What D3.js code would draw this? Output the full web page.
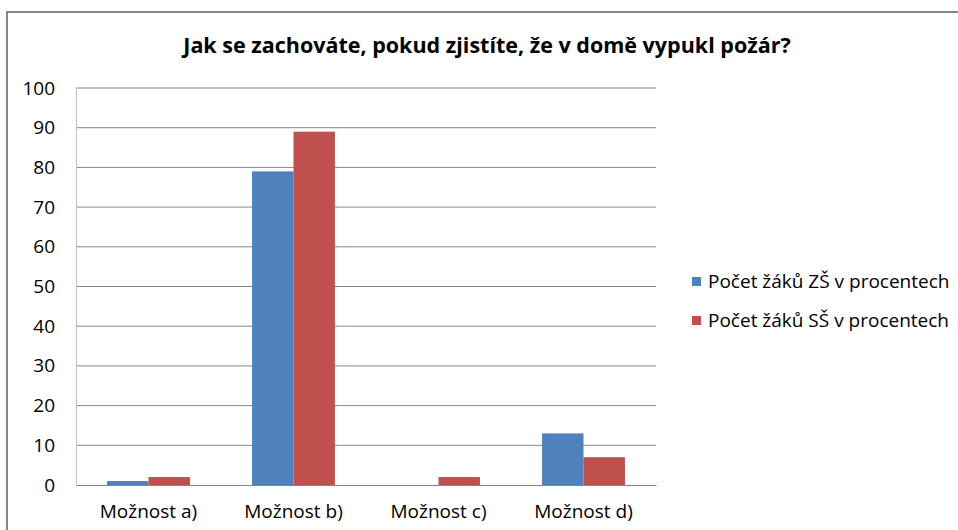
<!DOCTYPE html>
<html>
<head>
<meta charset="utf-8">
<script src="https://cdn.jsdelivr.net/npm/d3@7"></script>
<style>
body { margin: 0; background: #fff; }
text { font-family: "Open Sans", "Liberation Sans", sans-serif; fill: #000; }
</style>
</head>
<body>
<svg id="chart" width="958" height="530"></svg>
<script>
var categories = ["Možnost a)", "Možnost b)", "Možnost c)", "Možnost d)"];
var seriesNames = ["Počet žáků ZŠ v procentech", "Počet žáků SŠ v procentech"];
var zsValues = [1, 79, 0, 13];
var ssValues = [2, 89, 2, 7];
var yTicks = [0, 10, 20, 30, 40, 50, 60, 70, 80, 90, 100];

var svg = d3.select("#chart"),
    margin = {top: 88, left: 76, right: 302, bottom: 45},
    width = 958 - margin.left - margin.right,
    height = 530 - margin.top - margin.bottom;

var colors = ["#4f81bd", "#c0504d"];
var fontFam = "'Open Sans', 'Liberation Sans', sans-serif";

// outer chart border
svg.append("rect")
    .attr("x", 7).attr("y", 12)
    .attr("width", 960).attr("height", 530)
    .attr("fill", "none")
    .attr("stroke", "#868686")
    .attr("stroke-width", 2);

svg.append("text")
    .attr("x", 487).attr("y", 53)
    .attr("text-anchor", "middle")
    .style("font-size", "21.5px")
    .style("font-weight", "bold")
    .text("Jak se zachováte, pokud zjistíte, že v domě vypukl požár?");

var g = svg.append("g")
    .attr("transform", "translate(" + margin.left + "," + margin.top + ")");

var x = d3.scaleBand().domain(categories).range([0, width]);
var x1 = d3.scaleBand().domain([0, 1]).range([0, x.bandwidth()]).paddingInner(0).paddingOuter(0.75);
var y = d3.scaleLinear().domain([0, 100]).range([height, 0]);

// gridlines
g.selectAll(".grid")
    .data(yTicks.slice(1))
    .enter().append("line")
    .attr("x1", 0).attr("x2", width)
    .attr("y1", function(d) { return y(d); })
    .attr("y2", function(d) { return y(d); })
    .attr("stroke", "#868686")
    .attr("stroke-width", 1);

var data = categories.map(function(c, i) {
    return {cat: c, vals: [zsValues[i], ssValues[i]]};
});

var grp = g.selectAll(".cat")
    .data(data)
    .enter().append("g")
    .attr("transform", function(d) { return "translate(" + x(d.cat) + ",0)"; });

grp.selectAll("rect")
    .data(function(d) { return d.vals; })
    .enter().append("rect")
    .attr("x", function(d, i) { return x1(i); })
    .attr("width", x1.bandwidth())
    .attr("y", function(d) { return y(d); })
    .attr("height", function(d) { return height - y(d); })
    .attr("fill", function(d, i) { return colors[i]; });

// axes
var yAxis = g.append("g").call(d3.axisLeft(y).tickValues(yTicks).tickSize(0).tickPadding(21));
yAxis.select(".domain").attr("stroke", "#bfbfbf");
yAxis.selectAll("text").style("font-size", "19px").style("font-family", fontFam);

var xAxis = g.append("g")
    .attr("transform", "translate(0," + height + ")")
    .call(d3.axisBottom(x).tickSize(0).tickPadding(20));
xAxis.select(".domain").attr("stroke", "#868686");
xAxis.selectAll("text").style("font-size", "19px").style("font-family", fontFam);

// legend
var legend = svg.selectAll(".legend")
    .data(seriesNames)
    .enter().append("g")
    .attr("transform", function(d, i) { return "translate(692," + (277 + i * 39) + ")"; });

legend.append("rect")
    .attr("width", 9).attr("height", 9)
    .attr("fill", function(d, i) { return colors[i]; });

legend.append("text")
    .attr("x", 16).attr("y", 11)
    .style("font-size", "19px")
    .text(function(d) { return d; });
</script>
</body>
</html>
